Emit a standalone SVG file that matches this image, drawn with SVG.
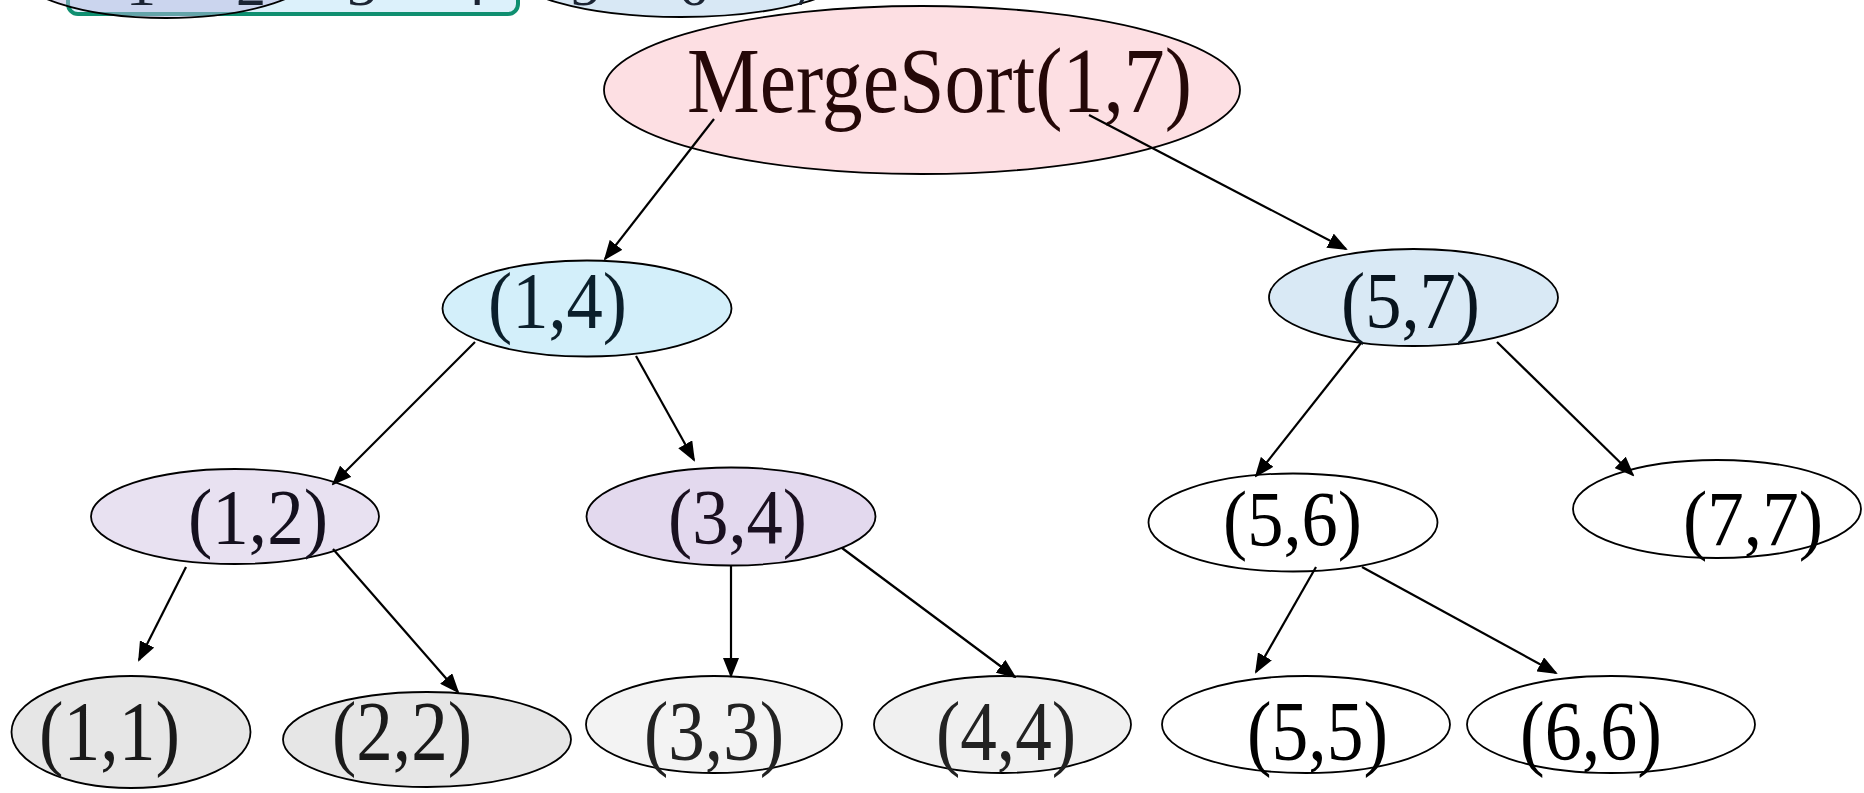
<svg xmlns="http://www.w3.org/2000/svg" width="1864" height="793" viewBox="0 0 1864 793">
<defs>
<style>
.n{stroke:#000;stroke-width:1.8}
.t{font-family:"Liberation Serif","Times New Roman",serif}
.l1{font-size:80px}
.l2{font-size:79px}
.l3{font-size:84px}
.c{stroke:#000;stroke-width:2.2;fill:none;marker-end:url(#ah)}
.top{font-family:"Liberation Serif","Times New Roman",serif;font-size:60px;fill:#1b2433;text-anchor:middle}
</style>
<marker id="ah" markerUnits="userSpaceOnUse" markerWidth="20" markerHeight="16" refX="18" refY="8" orient="auto">
<path d="M0,0 L20,8 L0,16 Z" fill="#000"/>
</marker>
</defs>
<rect width="1864" height="793" fill="#fff"/>
<g id="top-strip">
<rect x="68" y="-40" width="450" height="54" rx="10" fill="#dcf1fb" stroke="#0f8f70" stroke-width="4"/>
<ellipse cx="166" cy="-32" rx="152" ry="50" fill="#bab9e1" fill-opacity="0.5" class="n"/>
<ellipse cx="681" cy="-33" rx="175" ry="50" fill="#d8e8f5" class="n"/>
<text class="top" x="141" y="5">1</text>
<text class="top" x="251" y="5">2</text>
<text class="top" x="362" y="5">3</text>
<text class="top" x="471" y="5">4</text>
<text class="top" x="585" y="5">5</text>
<text class="top" x="693" y="5">6</text>
<text class="top" x="806" y="5">7</text>
</g>
<g id="n17">
<ellipse cx="922" cy="90" rx="318" ry="84" fill="#fddfe3" class="n"/>
<text class="t" x="687" y="112" font-size="94" fill="#250808" textLength="505" lengthAdjust="spacingAndGlyphs">MergeSort(1,7)</text>
</g>
<g id="n14">
<ellipse cx="587" cy="308.5" rx="144.5" ry="48" fill="#d3effa" class="n"/>
<text class="t l1" x="488" y="328" fill="#0b1f2b" textLength="139" lengthAdjust="spacingAndGlyphs">(1,4)</text>
</g>
<g id="n57">
<ellipse cx="1413.5" cy="297.5" rx="144.5" ry="48.5" fill="#d9e9f5" class="n"/>
<text class="t l1" x="1341" y="328" fill="#08141e" textLength="139" lengthAdjust="spacingAndGlyphs">(5,7)</text>
</g>
<g id="n12">
<ellipse cx="235" cy="516.5" rx="144" ry="47.5" fill="#e8e1f1" class="n"/>
<text class="t l2" x="188" y="543" fill="#14101e" textLength="140" lengthAdjust="spacingAndGlyphs">(1,2)</text>
</g>
<g id="n34">
<ellipse cx="731" cy="516.5" rx="144.5" ry="49" fill="#e3d9ee" class="n"/>
<text class="t l2" x="668" y="543" fill="#1a1020" textLength="139" lengthAdjust="spacingAndGlyphs">(3,4)</text>
</g>
<g id="n56">
<ellipse cx="1293" cy="522.5" rx="144.5" ry="49" fill="#fff" class="n"/>
<text class="t l2" x="1223" y="545" fill="#000" textLength="139" lengthAdjust="spacingAndGlyphs">(5,6)</text>
</g>
<g id="n77">
<ellipse cx="1717" cy="509" rx="144" ry="49" fill="#fff" class="n"/>
<text class="t l2" x="1683" y="545" fill="#000" textLength="140" lengthAdjust="spacingAndGlyphs">(7,7)</text>
</g>
<g id="n11">
<ellipse cx="131" cy="732" rx="119.5" ry="56" fill="#e6e6e6" class="n"/>
<text class="t l3" x="39" y="760" fill="#1a1a1a" textLength="141" lengthAdjust="spacingAndGlyphs">(1,1)</text>
</g>
<g id="n22">
<ellipse cx="427" cy="739.5" rx="144" ry="47.5" fill="#e6e6e6" class="n"/>
<text class="t l3" x="332" y="760" fill="#1a1a1a" textLength="140" lengthAdjust="spacingAndGlyphs">(2,2)</text>
</g>
<g id="n33">
<ellipse cx="714" cy="724.5" rx="128" ry="48.5" fill="#f3f3f3" class="n"/>
<text class="t l3" x="644" y="760" fill="#222" textLength="140" lengthAdjust="spacingAndGlyphs">(3,3)</text>
</g>
<g id="n44">
<ellipse cx="1002.5" cy="724.5" rx="128.5" ry="48.5" fill="#f0f0f0" class="n"/>
<text class="t l3" x="936" y="760" fill="#222" textLength="140" lengthAdjust="spacingAndGlyphs">(4,4)</text>
</g>
<g id="n55">
<ellipse cx="1306" cy="724.5" rx="144" ry="48.5" fill="#fff" class="n"/>
<text class="t l3" x="1247" y="760" fill="#000" textLength="141" lengthAdjust="spacingAndGlyphs">(5,5)</text>
</g>
<g id="n66">
<ellipse cx="1611" cy="724.5" rx="144" ry="48.5" fill="#fff" class="n"/>
<text class="t l3" x="1520" y="760" fill="#000" textLength="142" lengthAdjust="spacingAndGlyphs">(6,6)</text>
</g>
<g id="connectors">
<line class="c" x1="714" y1="119" x2="605" y2="259"/>
<line class="c" x1="1089" y1="115" x2="1346" y2="249"/>
<line class="c" x1="475" y1="342" x2="333" y2="484"/>
<line class="c" x1="636" y1="356" x2="694" y2="460"/>
<line class="c" x1="1361" y1="343" x2="1256" y2="476"/>
<line class="c" x1="1497" y1="342" x2="1633" y2="475"/>
<line class="c" x1="186" y1="567" x2="139" y2="660"/>
<line class="c" x1="333" y1="549" x2="458" y2="692"/>
<line class="c" x1="731" y1="566" x2="731" y2="676"/>
<line class="c" x1="842" y1="548" x2="1015" y2="677"/>
<line class="c" x1="1316" y1="567" x2="1256" y2="672"/>
<line class="c" x1="1362" y1="567" x2="1556" y2="673"/>
</g>
</svg>
